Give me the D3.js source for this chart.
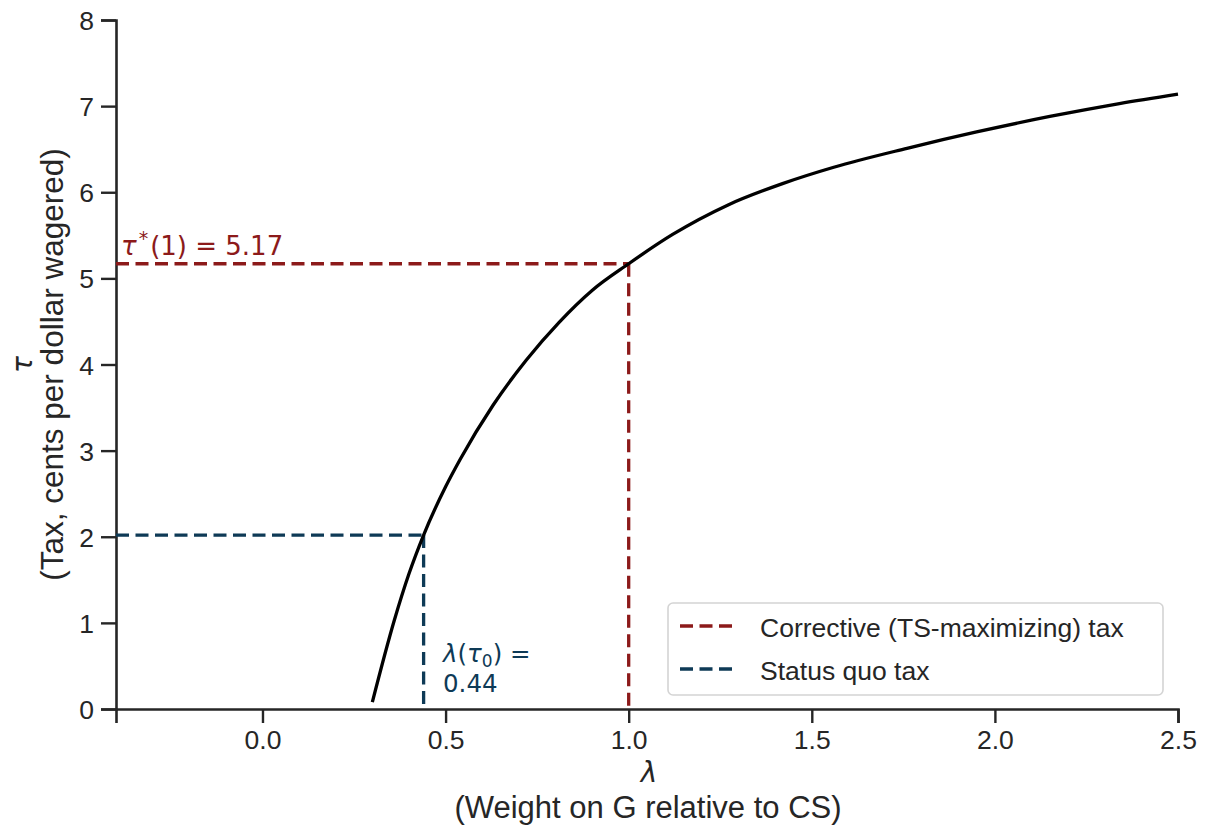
<!DOCTYPE html>
<html><head><meta charset="utf-8">
<script src="https://cdn.jsdelivr.net/npm/d3@7"></script>
<style>
body{margin:0;background:#fff;}
svg{display:block;}
</style></head><body>
<svg id="c" width="1205" height="830"></svg>
<script>
// Data
const lambdaVals = [0.30, 0.36, 0.40, 0.44, 0.50, 0.54, 0.63, 0.72, 0.81, 0.90, 1.00, 1.12, 1.27, 1.42, 1.56, 1.76, 1.95, 2.15, 2.34, 2.50];
const tauVals    = [0.08, 1.03, 1.57, 2.02, 2.58, 2.90, 3.53, 4.05, 4.49, 4.86, 5.17, 5.51, 5.85, 6.10, 6.29, 6.51, 6.70, 6.88, 7.03, 7.14];
const xTicks = [0.0, 0.5, 1.0, 1.5, 2.0, 2.5];
const yTicks = [0, 1, 2, 3, 4, 5, 6, 7, 8];
const corrective = {lambda: 1.0, tau: 5.17};
const statusQuo  = {lambda: 0.44, tau: 2.02};
const legendLabels = ["Corrective (TS-maximizing) tax", "Status quo tax"];

const RED = "#8c1a1a", BLUE = "#0e3a56", AX = "#262626";
const svg = d3.select("#c");
const x = d3.scaleLinear().domain([-0.4, 2.5]).range([116, 1178]);
const y = d3.scaleLinear().domain([0, 8]).range([709, 20]);
const FONT = "'Liberation Sans', Arial, sans-serif";
const MF = "'DejaVu Sans', sans-serif";

// axes
const gx = svg.append("g").attr("transform", `translate(0,${y(0)})`)
  .call(d3.axisBottom(x).tickValues(xTicks).tickFormat(d3.format(".1f")).tickSizeOuter(0).tickSize(14).tickPadding(7));
const gy = svg.append("g").attr("transform", `translate(${x(-0.4)},0)`)
  .call(d3.axisLeft(y).tickValues(yTicks).tickFormat(d3.format("d")).tickSizeOuter(0).tickSize(15).tickPadding(7));
[gx, gy].forEach(g => {
  g.select(".domain").attr("stroke", AX).attr("stroke-width", 2.6);
  g.selectAll(".tick line").attr("stroke", AX).attr("stroke-width", 2.4);
  g.selectAll(".tick text").attr("fill", AX).style("font-family", FONT).style("font-size", "26.5px");
});
gy.selectAll(".tick text").attr("dy", "0.36em");

// reference lines
const dash = "13,6.5", LW = 3.3;
function seg(x1, y1, x2, y2, c) {
  svg.append("line").attr("x1", x1).attr("x2", x2).attr("y1", y1).attr("y2", y2)
    .attr("stroke", c).attr("stroke-width", LW).attr("stroke-dasharray", dash);
}
seg(x(-0.4), y(corrective.tau), x(corrective.lambda), y(corrective.tau), RED);
seg(x(corrective.lambda), y(corrective.tau), x(corrective.lambda), y(0), RED);
seg(x(-0.4), y(statusQuo.tau), x(statusQuo.lambda), y(statusQuo.tau), BLUE);
seg(x(statusQuo.lambda), y(statusQuo.tau), x(statusQuo.lambda), y(0), BLUE);

// curve
const pts = lambdaVals.map((l, i) => [l, tauVals[i]]);
svg.append("path").datum(pts)
  .attr("d", d3.line().x(d => x(d[0])).y(d => y(d[1])).curve(d3.curveMonotoneX))
  .attr("fill", "none").attr("stroke", "#000").attr("stroke-width", 3.3).attr("stroke-linecap", "butt");

// annotations
const t1 = svg.append("text").attr("x", 121).attr("y", 255).attr("fill", RED)
  .style("font-family", MF).style("font-size", "26px");
t1.append("tspan").style("font-style", "italic").text("τ");
t1.append("tspan").attr("dy", -10).attr("dx", 2).style("font-size", "19px").text("*");
t1.append("tspan").attr("dy", 10).attr("dx", 2).text("(1) = " + corrective.tau.toFixed(2));

const t2 = svg.append("text").attr("x", 443).attr("y", 662).attr("fill", BLUE)
  .style("font-family", MF).style("font-size", "24.5px");
t2.append("tspan").style("font-style", "italic").text("λ");
t2.append("tspan").text("(");
t2.append("tspan").style("font-style", "italic").text("τ");
t2.append("tspan").attr("dy", 5).style("font-size", "17px").text("0");
t2.append("tspan").attr("dy", -5).text(") =");
svg.append("text").attr("x", 443).attr("y", 692).attr("fill", BLUE)
  .style("font-family", MF).style("font-size", "24.5px").text(statusQuo.lambda.toFixed(2));

// axis labels
svg.append("text").attr("x", 649).attr("y", 782).attr("text-anchor", "middle")
  .attr("fill", AX).style("font-family", MF).style("font-style", "italic").style("font-size", "28px").text("λ");
svg.append("text").attr("x", 648).attr("y", 818).attr("text-anchor", "middle")
  .attr("fill", AX).style("font-family", FONT).style("font-size", "31px").text("(Weight on G relative to CS)");
const cy = (y(0) + y(8)) / 2;
svg.append("text").attr("transform", `translate(32,${cy}) rotate(-90)`).attr("text-anchor", "middle")
  .attr("fill", AX).style("font-family", MF).style("font-style", "italic").style("font-size", "28px").text("τ");
svg.append("text").attr("transform", `translate(63,${cy}) rotate(-90)`).attr("text-anchor", "middle")
  .attr("fill", AX).style("font-family", FONT).style("font-size", "31.5px").text("(Tax, cents per dollar wagered)");

// legend
const lg = svg.append("g");
lg.append("rect").attr("x", 668).attr("y", 603).attr("width", 495).attr("height", 92)
  .attr("rx", 5).attr("fill", "#fff").attr("fill-opacity", 0.8).attr("stroke", "#d4d4d4").attr("stroke-width", 1.6);
[RED, BLUE].forEach((c, i) => {
  const yy = 626 + i * 43;
  lg.append("line").attr("x1", 680).attr("x2", 735).attr("y1", yy).attr("y2", yy)
    .attr("stroke", c).attr("stroke-width", LW).attr("stroke-dasharray", dash);
  lg.append("text").attr("x", 760).attr("y", yy + 11).attr("fill", AX)
    .style("font-family", FONT).style("font-size", "26.5px").text(legendLabels[i]);
});
</script>
</body></html>
